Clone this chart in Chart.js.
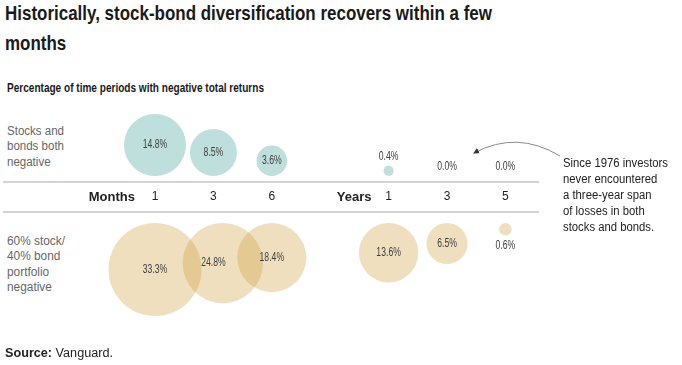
<!DOCTYPE html>
<html>
<head>
<meta charset="utf-8">
<script src="https://cdn.jsdelivr.net/npm/chart.js@4"></script>
<style>
  body { margin: 0; background: #fff; font-family: "Liberation Sans", Arial, sans-serif; }
  #page { position: relative; width: 682px; height: 365px; overflow: hidden; }
  .txt { position: absolute; white-space: nowrap; transform-origin: left top; }
  .txt span { display: inline-block; }
  #title { left: 5px; top: -2px; font-size: 21px; font-weight: bold; line-height: 30px; color: #1a1a1a; }
  #subtitle { left: 7px; top: 81px; font-size: 12px; font-weight: bold; line-height: 14px; color: #1a1a1a; }
  .rowlab { left: 7px; font-size: 12.5px; line-height: 15.3px; color: #666; }
  #note { left: 563px; top: 155px; font-size: 12px; line-height: 16px; color: #222; }
  #source { left: 5px; top: 346px; font-size: 12.5px; line-height: 15px; color: #222; }
  #chartBox { position: absolute; left: 3px; top: 100px; width: 536px; height: 230px; }
  #arrow { position: absolute; left: 0; top: 0; }
</style>
</head>
<body>
<div id="page">
  <div id="title" class="txt" data-fit="487">
    <div><span>Historically, stock-bond diversification recovers within a few</span></div>
    <div><span>months</span></div>
  </div>
  <div id="subtitle" class="txt" data-fit="257"><span>Percentage of time periods with negative total returns</span></div>

  <div id="row1" class="txt rowlab" style="top:124px" data-fit="57">
    <div><span>Stocks and</span></div>
    <div><span>bonds both</span></div>
    <div><span>negative</span></div>
  </div>
  <div id="row2" class="txt rowlab" style="top:234px" data-fit="58">
    <div><span>60% stock/</span></div>
    <div><span>40% bond</span></div>
    <div><span>portfolio</span></div>
    <div><span>negative</span></div>
  </div>

  <div id="chartBox"><canvas id="bubbles"></canvas></div>

  <svg id="arrow" width="682" height="365">
    <defs>
      <marker id="head" markerWidth="6" markerHeight="6" refX="5" refY="3" orient="auto">
        <path d="M0,0 L6,3 L0,6 z" fill="#333"></path>
      </marker>
    </defs>
    <path d="M560,156 Q517,130 474,153" fill="none" stroke="#8a8a8a" stroke-width="1" marker-end="url(#head)"></path>
  </svg>

  <div id="note" class="txt" data-fit="105">
    <div><span>Since 1976 investors</span></div>
    <div><span>never encountered</span></div>
    <div><span>a three-year span</span></div>
    <div><span>of losses in both</span></div>
    <div><span>stocks and bonds.</span></div>
  </div>

  <div id="source" class="txt" data-fit="108"><span><b>Source:</b> Vanguard.</span></div>
</div>

<script>
// values
const groups = ['Months', 'Years'];
const periods = ['1', '3', '6', '1', '3', '5'];
const bothNegative = [14.8, 8.5, 3.6, 0.4, 0.0, 0.0];
const portfolioNegative = [33.3, 24.8, 18.4, 13.6, 6.5, 0.6];

// squeeze the html text blocks to the widths in the picture
document.querySelectorAll('[data-fit]').forEach(el => {
  let w = 0;
  el.querySelectorAll('span').forEach(s => { w = Math.max(w, s.getBoundingClientRect().width); });
  el.style.transform = 'scaleX(' + (+el.dataset.fit / w) + ')';
});

// bubble area proportional to value
const radius = v => 8.06 * Math.sqrt(v);
// years sit one slot further right than months
const slot = i => i + (i >= 3 ? 1 : 0);
const groupSlot = [-0.74, 3.41];
// the 3-month portfolio bubble is pushed a little right in the original
const bottomNudge = [0, 0.16, 0, 0, 0, 0];

// top row sits on a line above the axis, bottom row hangs below it (1 unit = 1px)
const topBase = 21;
const bottomBase = -26;

const topData = bothNegative.map((v, i) => ({ x: slot(i), y: topBase + radius(v), r: radius(v) }));
const bottomData = portfolioNegative.map((v, i) => ({ x: slot(i) + bottomNudge[i], y: bottomBase - radius(v), r: radius(v) }));

const axisValues = [groupSlot[0], 0, 1, 2, groupSlot[1], 4, 5, 6];
const axisLabels = [groups[0], ...periods.slice(0, 3), groups[1], ...periods.slice(3)];

const valueLabels = {
  id: 'valueLabels',
  afterDatasetsDraw(chart) {
    const ctx = chart.ctx;
    const xs = chart.scales.x;
    const series = [bothNegative, portfolioNegative];
    ctx.save();
    ctx.font = '12px "Liberation Sans", Arial, sans-serif';
    ctx.fillStyle = '#404040';
    ctx.textAlign = 'center';
    ctx.textBaseline = 'middle';
    chart.data.datasets.forEach((ds, d) => {
      chart.getDatasetMeta(d).data.forEach((el, i) => {
        const v = series[d][i];
        const r = ds.data[i].r;
        let y = el.y;
        if (r < 12) y = d === 0 ? el.y - r - 9 : el.y + r + 10;
        ctx.save();
        ctx.translate(xs.getPixelForValue(slot(i)), y);
        ctx.scale(0.72, 1);
        ctx.fillText(v.toFixed(1) + '%', 0, 0);
        ctx.restore();
      });
    });
    ctx.restore();
  }
};

new Chart(document.getElementById('bubbles'), {
  type: 'bubble',
  data: {
    datasets: [
      {
        label: 'Stocks and bonds both negative',
        data: topData,
        backgroundColor: '#bfdfdc',
        borderWidth: 0,
      },
      {
        label: '60% stock/40% bond portfolio negative',
        data: bottomData,
        backgroundColor: 'rgba(202, 148, 42, 0.3)',
        borderWidth: 0,
      },
    ],
  },
  options: {
    responsive: true,
    maintainAspectRatio: false,
    devicePixelRatio: 1,
    animation: false,
    layout: { padding: 0, autoPadding: false },
    plugins: { legend: { display: false }, tooltip: { enabled: false } },
    scales: {
      x: {
        type: 'linear',
        min: -2.603,
        max: 6.575,
        position: { y: 7.5 },
        afterBuildTicks: scale => { scale.ticks = axisValues.map(v => ({ value: v })); },
        ticks: {
          autoSkip: false,
          maxRotation: 0,
          padding: 0,
          color: '#222',
          callback: (v, i) => axisLabels[i],
          font: ctx => (ctx.index === 0 || ctx.index === 4)
            ? { family: '"Liberation Sans", Arial, sans-serif', size: 13, weight: 'bold' }
            : { family: '"Liberation Sans", Arial, sans-serif', size: 12 },
        },
        grid: { display: false, drawTicks: false },
        border: { display: false },
      },
      y: {
        type: 'linear',
        min: -133,
        max: 97,
        position: 'left',
        afterBuildTicks: scale => { scale.ticks = [{ value: -15 }, { value: 15 }]; },
        ticks: { display: false },
        grid: { drawTicks: false, color: '#d3d3d3', lineWidth: 2 },
        border: { display: false },
      },
    },
  },
  plugins: [valueLabels],
});
</script>
</body>
</html>
